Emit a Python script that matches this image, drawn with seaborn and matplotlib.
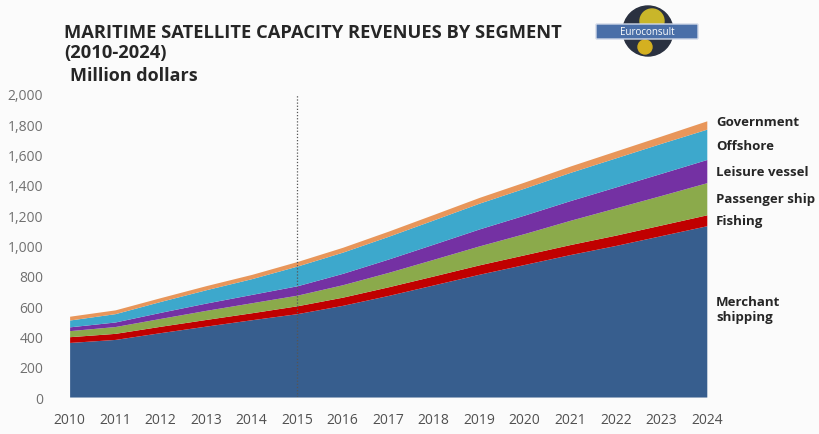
import matplotlib
matplotlib.use("Agg")
import matplotlib.pyplot as plt
from matplotlib.patches import FancyBboxPatch, Circle
import seaborn as sns
import numpy as np

years = list(range(2010, 2025))
merchant = [360, 380, 425, 468, 510, 550, 605, 670, 740, 810, 875, 940, 1000, 1065, 1130]
fishing = [38, 40, 42, 44, 46, 52, 54, 57, 59, 62, 64, 66, 68, 70, 72]
passenger = [40, 45, 52, 60, 66, 70, 82, 95, 110, 125, 140, 160, 180, 195, 212]
leisure = [25, 30, 40, 48, 55, 62, 75, 88, 100, 112, 122, 130, 138, 146, 153]
offshore = [45, 55, 72, 88, 104, 130, 140, 150, 160, 170, 178, 186, 192, 198, 200]
government = [25, 25, 25, 27, 28, 30, 32, 34, 36, 38, 40, 42, 45, 48, 55]

series = [merchant, fishing, passenger, leisure, offshore, government]
colors = ["#375E8E", "#C00000", "#8BAA4B", "#7431A3", "#3DA8CC", "#E8965A"]
right_labels = ["Merchant\nshipping", "Fishing", "Passenger ship", "Leisure vessel", "Offshore", "Government"]
yticks = [0, 200, 400, 600, 800, 1000, 1200, 1400, 1600, 1800, 2000]

sns.set_theme(style="white")
plt.rcParams['font.family'] = ['Open Sans', 'DejaVu Sans']

fig = plt.figure(figsize=(8.19, 4.35), dpi=100, facecolor="#FBFBFB")
ax = fig.add_axes([0.085, 0.085, 0.778, 0.697])
ax.set_facecolor("#FBFBFB")

ax.stackplot(years, *series, colors=colors, linewidth=0)
ax.axvline(2015, color="#555555", linestyle=(0, (1, 1.5)), linewidth=0.9, ymax=1.0)

ax.set_xlim(2010, 2024)
ax.set_ylim(0, 2000)
ax.set_xticks(years)
ax.set_xticklabels([str(y) for y in years], fontsize=10, color="#505050")
ax.set_yticks(yticks)
ax.set_yticklabels([f"{v:,}" for v in yticks], fontsize=10, color="#707070")
ax.tick_params(axis="x", pad=11, length=0)
ax.tick_params(axis="y", pad=19, length=0)
for s in ax.spines.values():
    s.set_visible(False)

# right-side labels
label_y = [310, 222, 200, 172, 147, 123]
for lab, yp in zip(right_labels, label_y):
    fig.text(716 / 819, 1 - yp / 435, lab, fontsize=9.5, fontweight="bold", color="#262626",
             va="center", ha="left", linespacing=1.3)

fig.text(64 / 819, 1 - 33 / 435, "MARITIME SATELLITE CAPACITY REVENUES BY SEGMENT",
         fontsize=13.2, fontweight="bold", color="#262626", va="center", ha="left")
fig.text(64 / 819, 1 - 53 / 435, "(2010-2024)", fontsize=13.2, fontweight="bold",
         color="#262626", va="center", ha="left")
fig.text(70 / 819, 1 - 76 / 435, "Million dollars", fontsize=13, fontweight="bold",
         color="#262626", va="center", ha="left")

# logo imitation
lax = fig.add_axes([592 / 819, 1 - 60 / 435, 112 / 819, 56 / 435])
lax.set_xlim(0, 112)
lax.set_ylim(0, 56)
lax.axis("off")
lax.add_patch(Circle((56, 28), 25, color="#2A3140"))
lax.add_patch(Circle((60, 38), 12, color="#C9B62A"))
lax.add_patch(Circle((53, 12), 7, color="#D4B020"))
lax.add_patch(FancyBboxPatch((5, 21), 100, 13, boxstyle="round,pad=1", color="#4A6FA8", ec="#D0D8E8", lw=1))
lax.text(55, 27.5, "Euroconsult", color="white", fontsize=7, ha="center", va="center")

fig.savefig("out.png", dpi=100, facecolor=fig.get_facecolor())
